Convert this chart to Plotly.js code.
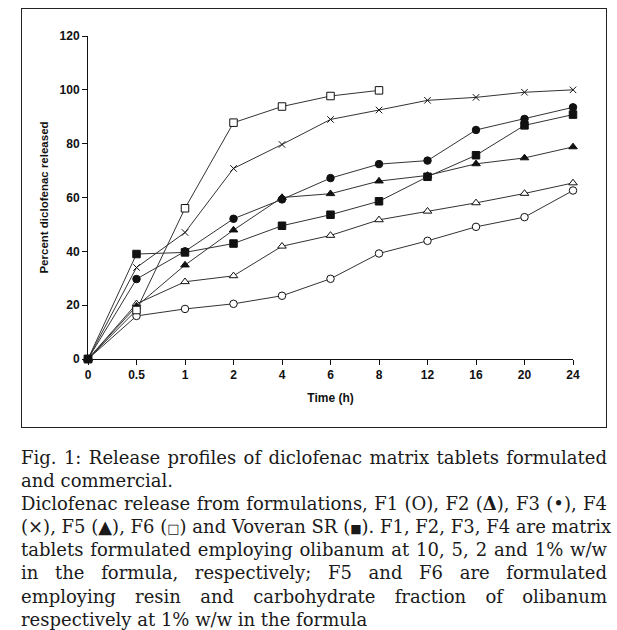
<!DOCTYPE html>
<html>
<head>
<meta charset="utf-8">
<script src="https://cdn.plot.ly/plotly-3.0.1.min.js"></script>
<style>
  body { margin: 0; background: #fff; }
  #wrap { position: relative; width: 617px; height: 630px; overflow: hidden; }
  #frame { position: absolute; left: 21px; top: 8px; width: 584px; height: 418px; border: 1px solid #222; }
  #plot { position: absolute; left: 0; top: 0; width: 617px; height: 440px; }
  #caption { position: absolute; left: 21px; top: 446px; width: 586px;
             font-family: "DejaVu Serif", serif; font-size: 18px; line-height: 23.1px; color: #1a1a1a; }
  #caption div { height: 23.1px; text-align: justify; text-align-last: justify; white-space: nowrap; }
  #caption div.last { text-align-last: left; }
  #caption span { line-height: 1; }
</style>
</head>
<body>
<div id="wrap">
  <div id="frame"></div>
  <div id="plot"></div>
  <div id="caption">
    <div>Fig. 1: Release profiles of diclofenac matrix tablets formulated</div>
    <div class="last">and commercial.</div>
    <div>Diclofenac release from formulations, F1 (O), F2 (<b>Δ</b>), F3 (•), F4</div>
    <div>(×), F5 (<span>▲</span>), F6 (<span style="font-size:13px">□</span>) and Voveran SR (<span style="font-size:12px">■</span>). F1, F2, F3, F4 are matrix</div>
    <div>tablets formulated employing olibanum at 10, 5, 2 and 1% w/w</div>
    <div>in the formula, respectively; F5 and F6 are formulated</div>
    <div>employing resin and carbohydrate fraction of olibanum</div>
    <div class="last">respectively at 1% w/w in the formula</div>
  </div>
</div>
<script>
// sampling times (equally spaced categories on the chart)
const times = ["0", "0.5", "1", "2", "4", "6", "8", "12", "16", "20", "24"];

// percent diclofenac released
const f1 = [0, 16.0, 18.6, 20.5, 23.5, 29.8, 39.2, 43.9, 49.1, 52.7, 62.6];
const f2 = [0, 20.5, 28.7, 30.9, 41.9, 45.9, 51.7, 54.9, 58.0, 61.5, 65.4];
const f3 = [0, 29.7, 40.0, 52.1, 59.3, 67.2, 72.4, 73.7, 85.1, 89.2, 93.5];
const f4 = [0, 34.0, 47.0, 70.8, 79.7, 89.0, 92.5, 96.1, 97.2, 99.1, 100.0];
const f5 = [0, 19.6, 34.9, 47.9, 60.0, 61.4, 66.1, 68.2, 72.5, 74.7, 78.8];
const f6 = [0, 18.2, 56.0, 87.8, 93.8, 97.7, 99.8];
const voveran = [0, 39.0, 39.6, 42.9, 49.5, 53.6, 58.6, 67.7, 75.7, 86.8, 90.8];

const lineStyle = {color: "#333", width: 1};

function series(y, symbol, size, fill, name) {
    return {
        x: times.slice(0, y.length),
        y: y,
        name: name,
        type: "scatter",
        mode: "lines+markers",
        cliponaxis: false,
        line: lineStyle,
        marker: {
            symbol: symbol,
            size: size,
            color: fill,
            line: {color: "#111", width: 1}
        }
    };
}

const data = [
    series(f1, "circle", 7.5, "#fff", "F1"),
    series(f2, "triangle-up", 7.5, "#fff", "F2"),
    series(f3, "circle", 7.5, "#111", "F3"),
    series(f4, "x-thin-open", 6.5, "#111", "F4"),
    series(f5, "triangle-up", 7.5, "#111", "F5"),
    series(f6, "square", 7.5, "#fff", "F6"),
    series(voveran, "square", 7.5, "#111", "Voveran SR")
];

const tickFont = {family: "Liberation Sans, Arial, sans-serif", size: 12, color: "#111", weight: "bold"};

const layout = {
    width: 617,
    height: 440,
    margin: {l: 88, r: 44, t: 36, b: 81},
    paper_bgcolor: "rgba(0,0,0,0)",
    plot_bgcolor: "rgba(0,0,0,0)",
    showlegend: false,
    xaxis: {
        type: "category",
        categoryorder: "array",
        categoryarray: times,
        range: [0, times.length - 1],
        showgrid: false,
        zeroline: false,
        showline: true,
        linecolor: "#111",
        linewidth: 1,
        ticks: "outside",
        ticklen: 5,
        tickcolor: "#111",
        tickfont: tickFont,
        title: {text: "Time (h)", font: {family: "Liberation Sans, Arial, sans-serif", size: 12, color: "#111", weight: "bold"}, standoff: 12}
    },
    yaxis: {
        range: [0, 120],
        dtick: 20,
        showgrid: false,
        zeroline: false,
        showline: true,
        linecolor: "#111",
        linewidth: 1,
        ticks: "outside",
        ticklen: 5,
        tickcolor: "#111",
        tickfont: tickFont,
        title: {text: "Percent diclofenac released", font: {family: "Liberation Sans, Arial, sans-serif", size: 11.5, color: "#111", weight: "bold"}, standoff: 8}
    }
};

Plotly.newPlot("plot", data, layout, {displayModeBar: false, staticPlot: true});
</script>
</body>
</html>
